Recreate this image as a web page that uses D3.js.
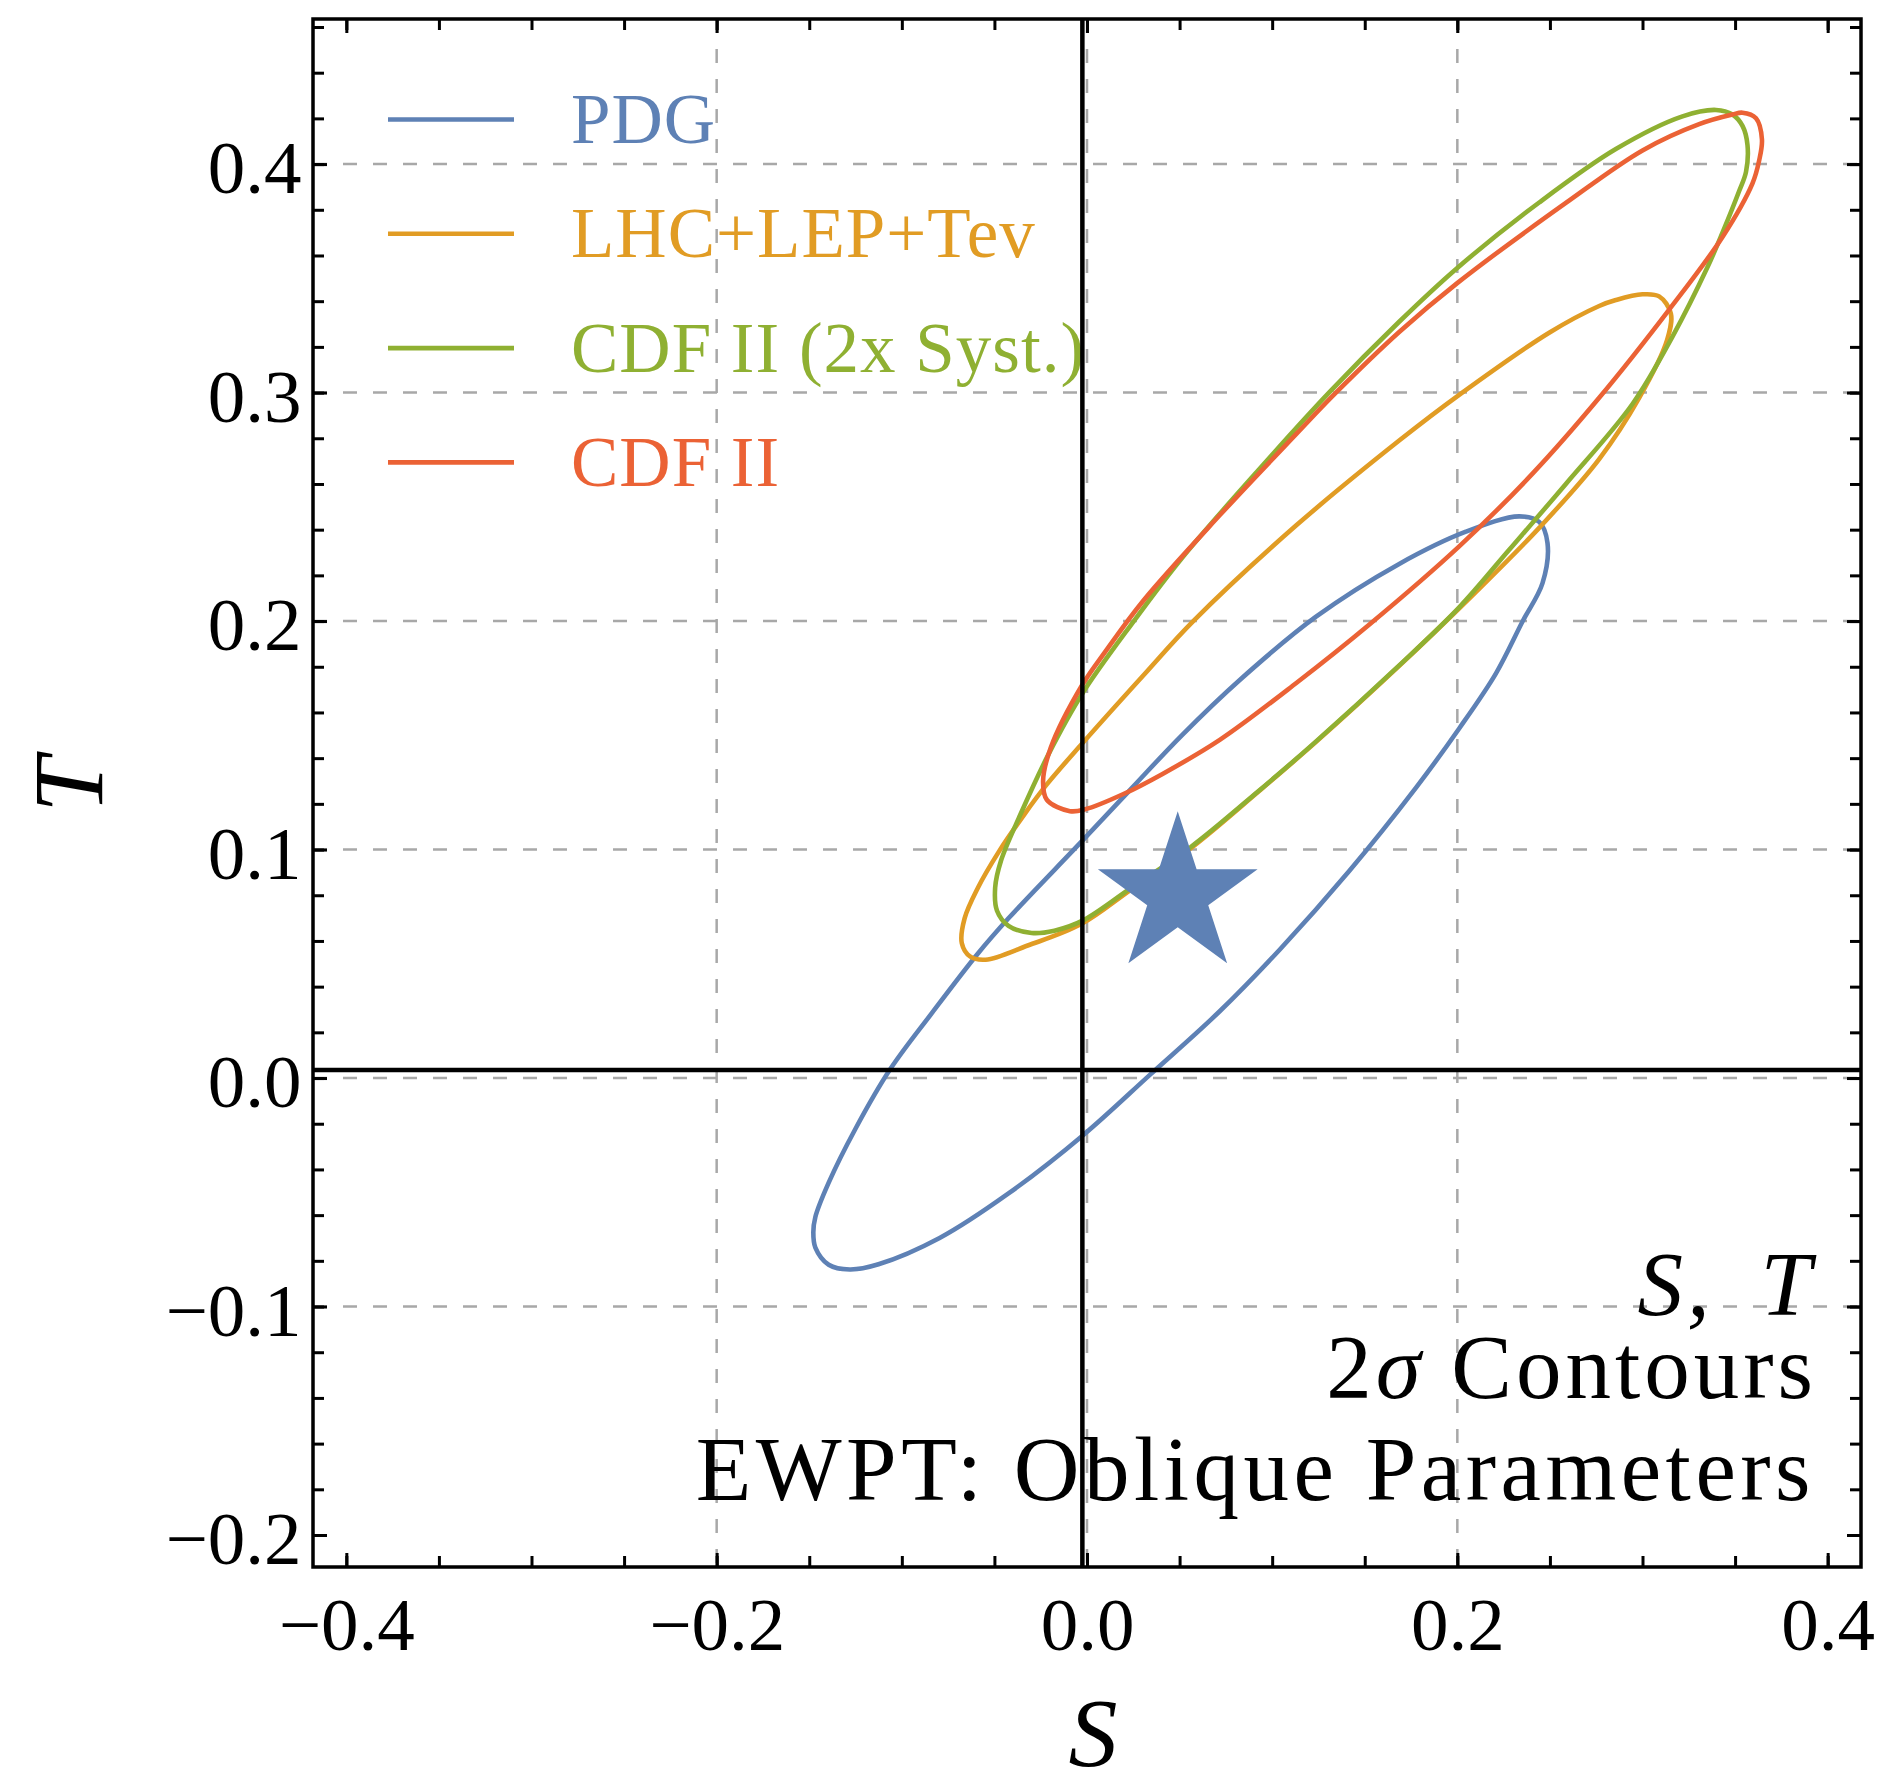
<!DOCTYPE html>
<html>
<head>
<meta charset="utf-8">
<script src="https://cdnjs.cloudflare.com/ajax/libs/d3/7.8.5/d3.min.js"></script>
<style>
  body { margin: 0; background: #fff; }
  text { font-family: "Liberation Serif", "DejaVu Serif", serif; }
</style>
</head>
<body>
<div class="svg"></div>
<script>
//Data//
var sTicks = [-0.4, -0.2, 0.0, 0.2, 0.4];
var tTicks = [-0.2, -0.1, 0.0, 0.1, 0.2, 0.3, 0.4];
var sGrid = [-0.2, 0.0, 0.2];
var tGrid = [-0.1, 0.0, 0.1, 0.2, 0.3, 0.4];

var seriesNames = ["PDG", "LHC+LEP+Tev", "CDF II (2x Syst.)", "CDF II"];
var seriesColors = ["#5E81B5", "#E19C24", "#8FB032", "#EB6235"];

//2 sigma contours, [S, T] points
var pdg = [
  [0.2334, 0.2458], [0.2442, 0.2434], [0.2487, 0.2341], [0.2460, 0.2166],
  [0.2352, 0.1998], [0.2208, 0.1770], [0.2010, 0.1530], [0.1776, 0.1270],
  [0.1415, 0.0905], [0.1044, 0.0565], [0.0714, 0.0290], [0.0341, 0.0015],
  [-0.0021, -0.0250], [-0.0424, -0.0505], [-0.0796, -0.0700], [-0.1126, -0.0815],
  [-0.1281, -0.0838], [-0.1395, -0.0817], [-0.1467, -0.0742], [-0.1478, -0.0675],
  [-0.1467, -0.0608], [-0.1395, -0.0458], [-0.1251, -0.0223], [-0.1064, 0.0037],
  [-0.0837, 0.0285], [-0.0589, 0.0545], [-0.0424, 0.0699], [-0.0021, 0.1042],
  [0.0243, 0.1270], [0.0512, 0.1500], [0.0822, 0.1740], [0.1235, 0.2018],
  [0.1686, 0.2250], [0.2046, 0.2391]
];
var lhc = [
  [0.3000, 0.3430], [0.3090, 0.3421], [0.3153, 0.3346], [0.3133, 0.3231],
  [0.2982, 0.2977], [0.2766, 0.2709], [0.2442, 0.2408], [0.2082, 0.2113],
  [0.1686, 0.1804], [0.1231, 0.1467], [0.0925, 0.1253], [0.0559, 0.1005],
  [0.0238, 0.0825], [-0.0031, 0.0674], [-0.0320, 0.0580], [-0.0547, 0.0518],
  [-0.0630, 0.0531], [-0.0676, 0.0590], [-0.0661, 0.0699], [-0.0589, 0.0833],
  [-0.0475, 0.0992], [-0.0341, 0.1151], [-0.0217, 0.1285], [-0.0025, 0.1465],
  [0.0305, 0.1763], [0.0574, 0.2000], [0.1132, 0.2420], [0.1686, 0.2790],
  [0.2010, 0.2990], [0.2496, 0.3262], [0.2766, 0.3379], [0.2856, 0.3405]
];
var cdf2x = [
  [0.3397, 0.4237], [0.3486, 0.4217], [0.3540, 0.4167], [0.3567, 0.4083],
  [0.3559, 0.3966], [0.3522, 0.3882], [0.3432, 0.3700], [0.3350, 0.3547],
  [0.3162, 0.3245], [0.2946, 0.2950], [0.2586, 0.2600], [0.2280, 0.2312],
  [0.2010, 0.2060], [0.1686, 0.1806], [0.1231, 0.1469], [0.0925, 0.1255],
  [0.0559, 0.1010], [0.0238, 0.0832], [-0.0021, 0.0690], [-0.0176, 0.0645],
  [-0.0299, 0.0635], [-0.0424, 0.0666], [-0.0486, 0.0732], [-0.0496, 0.0833],
  [-0.0465, 0.0950], [-0.0361, 0.1151], [-0.0206, 0.1420], [-0.0025, 0.1683],
  [0.0253, 0.2000], [0.0512, 0.2275], [0.0925, 0.2660], [0.1307, 0.3000],
  [0.1686, 0.3310], [0.1992, 0.3540], [0.2442, 0.3832], [0.2856, 0.4066],
  [0.3216, 0.4209]
];
var cdf = [
  [0.3540, 0.4225], [0.3613, 0.4201], [0.3645, 0.4108], [0.3630, 0.4016],
  [0.3594, 0.3916], [0.3432, 0.3681], [0.3144, 0.3363], [0.2766, 0.2977],
  [0.2406, 0.2645], [0.2010, 0.2327], [0.1525, 0.1985], [0.1132, 0.1730],
  [0.0719, 0.1481], [0.0408, 0.1331], [0.0197, 0.1243], [-0.0010, 0.1176],
  [-0.0092, 0.1168], [-0.0217, 0.1218], [-0.0237, 0.1302], [-0.0196, 0.1445],
  [-0.0026, 0.1720], [0.0098, 0.1865], [0.0305, 0.2090], [0.0719, 0.2465],
  [0.1132, 0.2820], [0.1339, 0.2995], [0.1686, 0.3265], [0.2001, 0.3480],
  [0.2586, 0.3830], [0.3000, 0.4060], [0.3306, 0.4175], [0.3486, 0.4217]
];
var contours = [pdg, lhc, cdf2x, cdf];

var starPoint = [0.049, 0.080];
//black axes as drawn in the figure (slightly off the zero gridlines)
var axisCross = [-0.0025, 0.0035];

var noteLines = ["S, T", "2σ Contours", "EWPT: Oblique Parameters"];

//Config
var width = 1885,
    height = 1789,
    frame = { left: 313, right: 1861, top: 19, bottom: 1567 };

var svg = d3.select(".svg")
  .append("svg")
  .attr("width", width)
  .attr("height", height)
  .style("display", "block")
  .style("background", "#fff");

var x = d3.scaleLinear().domain([-0.418, 0.418]).range([frame.left, frame.right]);
var y = d3.scaleLinear().domain([-0.214, 0.4635]).range([frame.bottom, frame.top]);

var sMinor = d3.range(-0.4, 0.4001, 0.05);
var tMinor = d3.range(-0.2, 0.4601, 0.02);

//Gridlines
var ggrid = svg.append("g")
  .attr("stroke", "#a8a8a8")
  .attr("stroke-width", 2.5)
  .attr("stroke-dasharray", "14,16");

ggrid.selectAll(".vgrid")
  .data(sGrid)
  .enter()
  .append("line")
  .attr("x1", function (d) { return x(d); })
  .attr("x2", function (d) { return x(d); })
  .attr("y1", frame.top)
  .attr("y2", frame.bottom);

ggrid.selectAll(".hgrid")
  .data(tGrid)
  .enter()
  .append("line")
  .attr("x1", frame.left)
  .attr("x2", frame.right)
  .attr("y1", function (d) { return y(d); })
  .attr("y2", function (d) { return y(d); });

//Contours
var contourLine = d3.line()
  .x(function (d) { return x(d[0]); })
  .y(function (d) { return y(d[1]); })
  .curve(d3.curveCatmullRomClosed.alpha(0.5));

svg.append("g")
  .selectAll("path")
  .data(contours)
  .enter()
  .append("path")
  .attr("d", contourLine)
  .attr("fill", "none")
  .attr("stroke", function (d, i) { return seriesColors[i]; })
  .attr("stroke-width", 4.6)
  .attr("stroke-linejoin", "round");

//Star
svg.append("path")
  .attr("d", d3.symbol(d3.symbolStar, 7920)())
  .attr("transform", "translate(" + x(starPoint[0]) + "," + y(starPoint[1]) + ")")
  .attr("fill", seriesColors[0]);

//Notes, bottom right
var notes = svg.append("g")
  .attr("text-anchor", "end")
  .attr("font-size", 91)
  .attr("letter-spacing", 4)
  .attr("fill", "#000");

var noteBase = [1315, 1398, 1500];

notes.append("text")
  .attr("x", 1815)
  .attr("y", noteBase[0])
  .attr("font-style", "italic")
  .attr("word-spacing", 20)
  .text(noteLines[0]);

var n2 = notes.append("text")
  .attr("x", 1817)
  .attr("y", noteBase[1]);
n2.append("tspan").text(noteLines[1].slice(0, 1));
n2.append("tspan").attr("font-style", "italic").text(noteLines[1].slice(1, 2));
n2.append("tspan").text(noteLines[1].slice(2));

notes.append("text")
  .attr("x", 1815)
  .attr("y", noteBase[2])
  .attr("letter-spacing", 4.5)
  .text(noteLines[2]);

//Legend
var legend = svg.append("g")
  .selectAll("g")
  .data(seriesNames)
  .enter()
  .append("g")
  .attr("transform", function (d, i) { return "translate(0," + (119.5 + i * 114.3) + ")"; });

legend.append("line")
  .attr("x1", 388)
  .attr("x2", 514)
  .attr("stroke", function (d, i) { return seriesColors[i]; })
  .attr("stroke-width", 4.6);

legend.append("text")
  .attr("x", 571)
  .attr("y", 23.5)
  .attr("font-size", 71)
  .attr("letter-spacing", 1)
  .attr("fill", function (d, i) { return seriesColors[i]; })
  .text(function (d) { return d; });

//Black axes through the origin
svg.append("line")
  .attr("x1", x(axisCross[0]))
  .attr("x2", x(axisCross[0]))
  .attr("y1", frame.top)
  .attr("y2", frame.bottom)
  .attr("stroke", "#000")
  .attr("stroke-width", 4.5);

svg.append("line")
  .attr("x1", frame.left)
  .attr("x2", frame.right)
  .attr("y1", y(axisCross[1]))
  .attr("y2", y(axisCross[1]))
  .attr("stroke", "#000")
  .attr("stroke-width", 4.5);

//Frame ticks, all pointing inward
function frameAxis(gen, values, size, fmt, pad) {
  return gen.tickValues(values)
    .tickSizeInner(-size)
    .tickSizeOuter(0)
    .tickPadding(pad || 0)
    .tickFormat(fmt);
}

function styleAxis(g) {
  g.select(".domain").remove();
  g.selectAll("line").attr("stroke", "#000").attr("stroke-width", 3);
  g.attr("font-family", null).attr("font-size", 75);
  g.selectAll("text").attr("fill", "#000");
}

var fmt = d3.format(".1f");
var noLabel = function () { return ""; };

var sides = [
  { gen: d3.axisBottom, tr: "translate(0," + frame.bottom + ")", scale: x, major: sTicks, minor: sMinor, label: true },
  { gen: d3.axisTop, tr: "translate(0," + frame.top + ")", scale: x, major: sTicks, minor: sMinor, label: false },
  { gen: d3.axisLeft, tr: "translate(" + frame.left + ",0)", scale: y, major: tTicks, minor: tMinor, label: true },
  { gen: d3.axisRight, tr: "translate(" + frame.right + ",0)", scale: y, major: tTicks, minor: tMinor, label: false }
];

sides.forEach(function (side) {
  svg.append("g")
    .attr("transform", side.tr)
    .call(frameAxis(side.gen(side.scale), side.minor, 11, noLabel))
    .call(styleAxis);

  var pad = side.gen === d3.axisBottom ? 30 : 11.5;
  var ga = svg.append("g")
    .attr("transform", side.tr)
    .call(frameAxis(side.gen(side.scale), side.major, 14, side.label ? fmt : noLabel, pad))
    .call(styleAxis);

  if (side.gen === d3.axisLeft) {
    ga.selectAll("text").attr("dy", "0.38em");
  }
});

//Frame
svg.append("rect")
  .attr("x", frame.left)
  .attr("y", frame.top)
  .attr("width", frame.right - frame.left)
  .attr("height", frame.bottom - frame.top)
  .attr("fill", "none")
  .attr("stroke", "#000")
  .attr("stroke-width", 3.5);

//Axis labels
svg.append("text")
  .attr("x", 1093)
  .attr("y", 1766)
  .attr("text-anchor", "middle")
  .attr("font-size", 98)
  .attr("font-style", "italic")
  .text("S");

svg.append("text")
  .attr("transform", "translate(102,785) rotate(-90)")
  .attr("text-anchor", "middle")
  .attr("font-size", 100)
  .attr("font-style", "italic")
  .text("T");
</script>
</body>
</html>
